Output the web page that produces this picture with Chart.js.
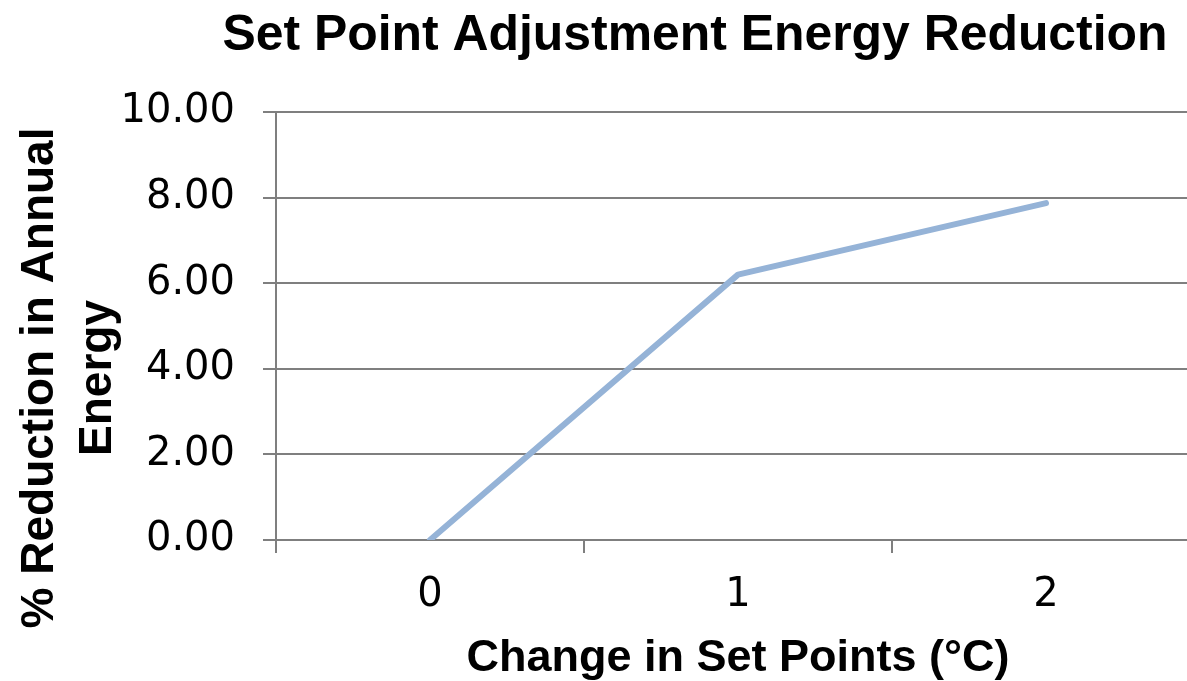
<!DOCTYPE html>
<html>
<head>
<meta charset="utf-8">
<script src="https://cdn.jsdelivr.net/npm/chart.js@4"></script>
<style>
  html, body { margin: 0; padding: 0; background: #fff; overflow: hidden; }
  canvas { display: block; }
</style>
</head>
<body>
<canvas id="setPointChart" width="1200" height="681"></canvas>
<script>
// chart data
const setPointChanges = ["0", "1", "2"];
const energyReduction = [0, 6.2, 7.87];
const yTickValues = [0, 2, 4, 6, 8, 10];

const chartTitle = "Set Point Adjustment Energy Reduction";
const yTitleLines = ["% Reduction in Annual", "Energy"];
const xTitle = "Change in Set Points (°C)";

const gridGray = "#7f7f7f";

// title and y-axis title are drawn by hand so they sit where Excel put them
const titlesPlugin = {
    id: "titles",
    afterDraw(chart) {
        const ctx = chart.ctx;
        ctx.save();
        ctx.fillStyle = "#000";
        ctx.textAlign = "center";
        ctx.textBaseline = "alphabetic";
        ctx.font = "bold 50px 'Liberation Sans', Arial, sans-serif";
        ctx.fillText(chartTitle, 695, 50, 945);

        ctx.font = "bold 46px 'Liberation Sans', Arial, sans-serif";
        ctx.translate(0, 378);
        ctx.rotate(-Math.PI / 2);
        ctx.fillText(yTitleLines[0], 0, 53);
        ctx.fillText(yTitleLines[1], 0, 111);
        ctx.restore();
    }
};

let ctx = document.getElementById("setPointChart").getContext("2d");

new Chart(ctx, {
    type: "line",
    data: {
        labels: setPointChanges,
        datasets: [{
            data: energyReduction,
            borderColor: "#95b3d7",
            borderWidth: 6,
            borderCapStyle: "round",
            borderJoinStyle: "round",
            pointRadius: 0,
            tension: 0,
            fill: false
        }]
    },
    options: {
        responsive: false,
        animation: false,
        layout: { padding: { top: 112, right: 0, bottom: 0, left: 0 } },
        plugins: {
            legend: { display: false },
            title: { display: false },
            tooltip: { enabled: false }
        },
        scales: {
            x: {
                offset: true,
                grid: {
                    offset: true,
                    drawOnChartArea: false,
                    drawTicks: true,
                    tickLength: 13,
                    color: gridGray,
                    lineWidth: 2
                },
                border: { color: gridGray, width: 2 },
                ticks: {
                    color: "#000",
                    padding: 19,
                    font: { family: "'DejaVu Sans'", size: 40 }
                },
                title: {
                    display: true,
                    text: xTitle,
                    color: "#000",
                    padding: { top: 0, bottom: 0 },
                    font: { family: "'Liberation Sans'", size: 45, weight: "bold", lineHeight: 1 }
                },
                afterFit(scale) { scale.height = 141; }
            },
            y: {
                min: 0,
                max: 10,
                afterBuildTicks(scale) {
                    scale.ticks = yTickValues.map(v => ({ value: v }));
                },
                grid: {
                    color: gridGray,
                    lineWidth: 2,
                    tickLength: 13
                },
                border: { color: gridGray, width: 2 },
                ticks: {
                    color: "#000",
                    padding: 28,
                    font: { family: "'DejaVu Sans'", size: 40 },
                    callback: v => Number(v).toFixed(2)
                },
                afterFit(scale) { scale.width = 276; }
            }
        }
    },
    plugins: [titlesPlugin]
});
</script>
</body>
</html>
